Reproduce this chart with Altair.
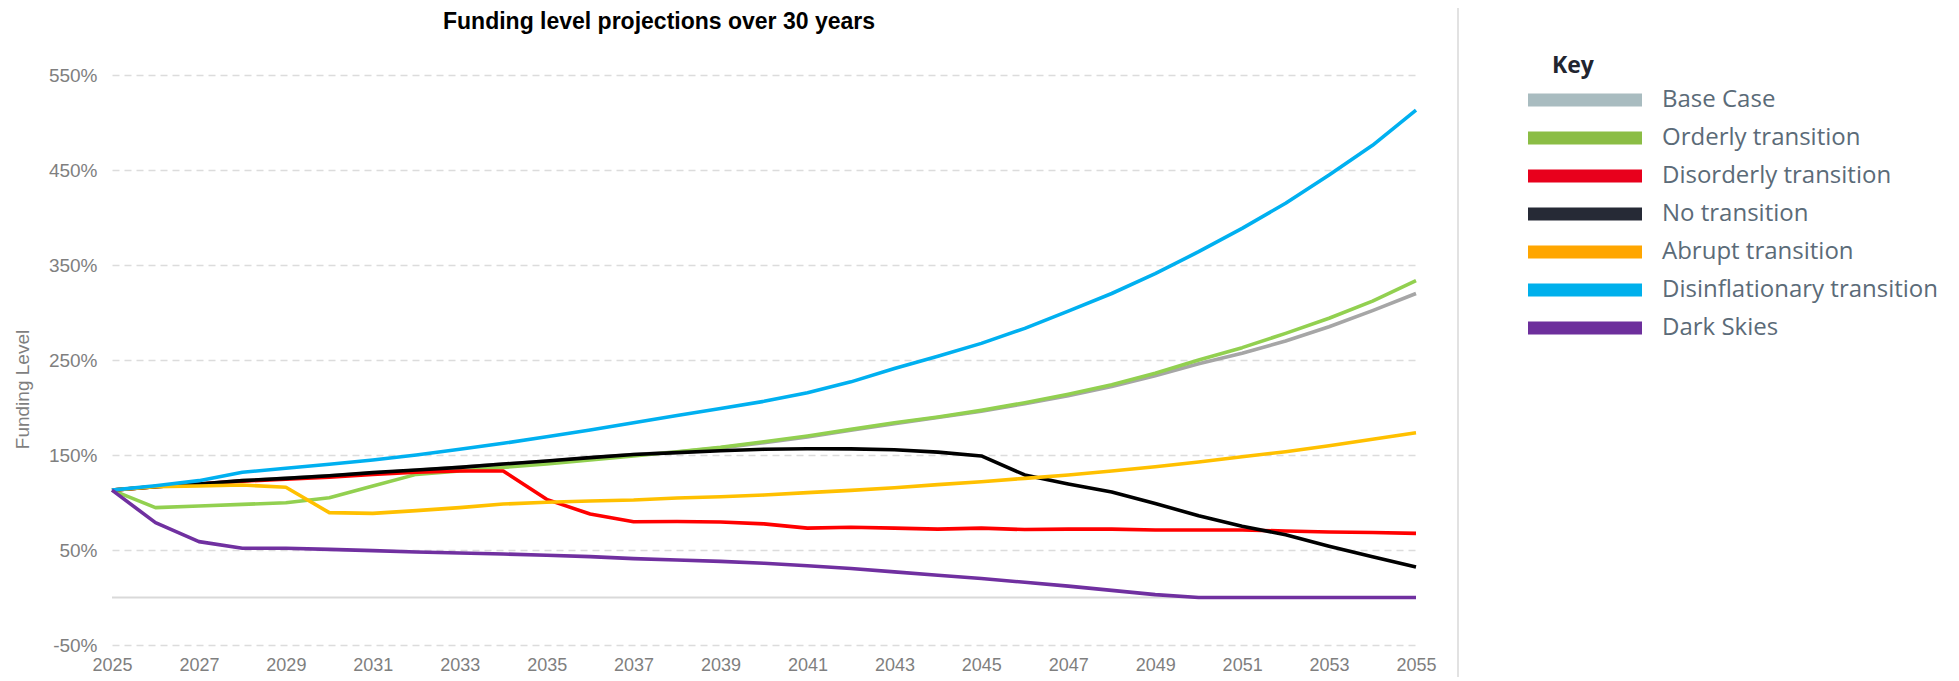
import altair as alt
import pandas as pd

years = list(range(2025, 2056))
series_names = ["Base Case", "Orderly transition", "Disorderly transition", "No transition",
                "Abrupt transition", "Disinflationary transition", "Dark Skies"]
line_colors = ["#a6a6a6", "#92d050", "#ff0000", "#000000", "#ffc000", "#00b0f0", "#7030a0"]
key_colors = ["#a9bcc0", "#8bbd45", "#e8001c", "#262a36", "#ffa600", "#00b0ec", "#6d2f9c"]

base_case = [113, 116.5, 119.5, 123, 125.5, 128, 131, 134, 137, 140.5, 143.5, 147, 150.5, 153, 157.5,
             163, 169, 176, 183, 189.5, 196, 204, 212.5, 222, 233.5, 246, 257, 270, 285, 302, 320]
orderly = [113, 94.6, 96.3, 98, 99.8, 105, 117.4, 129.6, 133.2, 137, 140.5, 144.7, 149, 153.5, 158,
           164, 170, 177, 184, 190, 197, 205, 214, 224, 236, 250, 263, 278, 294, 312, 333.5]
disorderly = [113, 116.5, 119.5, 122.5, 124.4, 126.5, 129.6, 131.8, 133.2, 133.2, 103.3, 87.9, 79.8, 80, 79.5,
              77.5, 73, 74, 73, 72, 73, 71.5, 72, 72, 71, 71, 71, 70, 69, 68.5, 67.5]
no_transition = [113, 116.7, 119.5, 123, 125.4, 128.2, 131.4, 134.2, 137, 140.5, 143.7, 147.2, 150.5, 152.5, 154.5,
                 156, 156.5, 156.5, 155.5, 153, 149, 129, 119.5, 111, 99, 86, 75, 66, 54, 43, 32]
abrupt = [113, 116.7, 117.4, 118.4, 116, 89.3, 88.6, 91.4, 94.6, 98.4, 100.2, 101.6, 102.6, 104.7, 106,
          107.9, 110.4, 112.8, 115.6, 118.8, 121.9, 125.4, 129, 133.2, 137.7, 142.6, 148.2, 153.5, 159.8, 166.5, 173.5]
disinflationary = [113, 117.7, 123, 131.8, 136, 140.2, 144.7, 150, 156, 162.3, 169.3, 176.3, 184, 191.5, 199,
                   206.5, 215.6, 227, 241, 254, 267.5, 283.3, 301.5, 320, 341, 364, 388.6, 415, 444.7, 476, 513]
dark_skies = [113, 78.8, 58.8, 51.8, 51.8, 50.7, 49.3, 47.9, 46.8, 45.8, 44.4, 43, 40.9, 39.5, 38,
              36, 33.5, 30.5, 27, 23.5, 20, 16, 12, 7.5, 3, 0, 0, 0, 0, 0, 0]

y_ticks = [-50, 50, 150, 250, 350, 450, 550]
x_ticks = list(range(2025, 2056, 2))

all_series = [base_case, orderly, disorderly, no_transition, abrupt, disinflationary, dark_skies]
rows = []
for name, col, vals in zip(series_names, line_colors, all_series):
    for yr, v in zip(years, vals):
        rows.append({"Year": yr, "Scenario": name, "LineColor": col, "Level": v})
df = pd.DataFrame(rows)

W, H = 1304, 570
GRAY = "#7f7f7f"

x_enc = alt.X("Year:Q", scale=alt.Scale(domain=[2025, 2055], nice=False, zero=False),
              axis=alt.Axis(values=x_ticks, format="d", title=None, grid=False, domain=False, ticks=False,
                            labelFont="Liberation Sans", labelFontSize=18, labelColor=GRAY,
                            labelPadding=11, labelFlush=False))
y_enc = alt.Y("Level:Q", scale=alt.Scale(domain=[-50, 550], nice=False, zero=False),
              axis=alt.Axis(values=y_ticks, labelExpr="datum.value + '%'", title="Funding Level",
                            grid=True, gridDash=[7, 5], gridColor="#dcdcdc", gridWidth=1.5,
                            domain=False, ticks=False, labelPadding=15,
                            labelFont="Liberation Sans", labelFontSize=19, labelColor=GRAY,
                            titleFont="Liberation Sans", titleFontSize=19, titleColor=GRAY,
                            titleFontWeight="normal", titleX=-80, titleY=314))

zero_line = alt.Chart(pd.DataFrame({"z": [0]})).mark_rule(color="#d9d9d9", strokeWidth=2).encode(
    y=alt.Y(datum=0, type="quantitative")
)

lines = alt.Chart(df).mark_line(strokeWidth=3.6, strokeJoin="round").encode(
    x=x_enc,
    y=y_enc,
    stroke=alt.Stroke("LineColor:N", scale=None),
    detail="Scenario:N",
)

key_layer = alt.Chart(df).mark_point(filled=True, size=0).encode(
    x=alt.X("Year:Q"),
    y=alt.Y("Level:Q"),
    fill=alt.Fill("Scenario:N", scale=alt.Scale(domain=series_names, range=key_colors),
                  legend=alt.Legend(title="\u200b\u00a0\u00a0\u00a0\u00a0Key", orient="none",
                                    legendX=1416, legendY=-20,
                                    padding=0, symbolType="M-1,-0.114H1V0.114H-1Z", symbolSize=12996,
                                    symbolStrokeWidth=0, symbolOpacity=1, clipHeight=30, rowPadding=8,
                                    labelOffset=20, labelFont="Open Sans", labelFontSize=24,
                                    labelColor="#5b6b78", labelLimit=500,
                                    titleFont="Open Sans", titleFontSize=23, titleFontWeight="bold",
                                    titleColor="#22252f", titlePadding=7, titleAnchor="start")),
)

separator = alt.Chart(pd.DataFrame({"s": [0]})).mark_rule(color="#d9d9d9", strokeWidth=1.5).encode(
    x=alt.value(1346), y=alt.value(-71), y2=alt.value(610)
)

chart = alt.layer(zero_line, lines, key_layer, separator).properties(
    width=W, height=H,
    title=alt.Title("Funding level projections over 30 years", anchor="start", frame="group",
                    dx=331, offset=-31, fontSize=23, fontWeight="bold", color="#000000",
                    font="Liberation Sans"),
    padding={"left": 104, "top": 67, "right": 535, "bottom": 32},
    autosize=alt.AutoSizeParams(type="none"),
).configure(background="white").configure_view(stroke=None)

chart.save("out.html", embed_options={"renderer": "svg", "actions": False})
